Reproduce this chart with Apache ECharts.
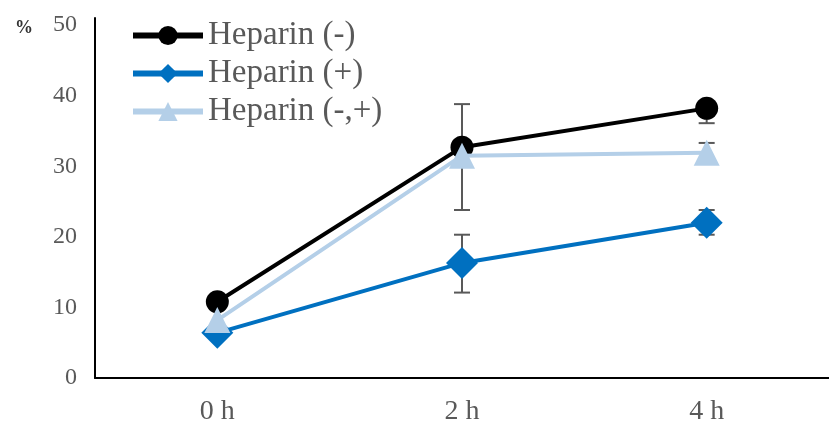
<!DOCTYPE html>
<html><head><meta charset="utf-8">
<script src="https://cdn.jsdelivr.net/npm/echarts@6/dist/echarts.min.js"></script>
<style>html,body{margin:0;padding:0;background:#fff}#c{width:829px;height:428px}</style>
</head><body><div id="c"></div>
<script>
const categories = ['0 h', '2 h', '4 h'];
const yTicks = [0, 10, 20, 30, 40, 50];
const heparinMinus = [10.8, 32.7, 38.2];
const heparinPlus = [6.4, 16.3, 22.0];
const heparinBoth = [8.2, 31.5, 31.9];
// error bars: [category index, low, high]
const errMinus = [[2, 36.1, 38.2]];
const errPlus = [[1, 12.1, 20.3], [2, 20.3, 23.8]];
const errBoth = [[1, 23.8, 38.8], [2, 30.5, 33.3]];

const errData = errMinus.concat(errPlus, errBoth);

const chart = echarts.init(document.getElementById('c'));
const serif = 'Liberation Serif';
function errRender(params, api) {
  const x = api.value(0);
  const lo = api.coord([x, api.value(1)]);
  const hi = api.coord([x, api.value(2)]);
  const w = 8;
  const style = {stroke: '#595959', lineWidth: 2};
  return {type: 'group', children: [
    {type: 'line', shape: {x1: lo[0], y1: lo[1], x2: hi[0], y2: hi[1]}, style},
    {type: 'line', shape: {x1: lo[0]-w, y1: lo[1], x2: lo[0]+w, y2: lo[1]}, style},
    {type: 'line', shape: {x1: hi[0]-w, y1: hi[1], x2: hi[0]+w, y2: hi[1]}, style}
  ]};
}
chart.setOption({
  animation: false,
  grid: {left: 95, right: 0, top: 18, bottom: 50, containLabel: false},
  graphic: [{type: 'text', left: 15, top: 19, style: {text: '%', font: 'bold 18px ' + serif, fill: '#333'}}],
  legend: {
    orient: 'vertical', left: 130, top: 19, padding: 0, itemWidth: 70, itemHeight: 24, itemGap: 5,
    lineStyle: {width: 6},
    data: ['Heparin (-)', 'Heparin (+)', 'Heparin (-,+)'],
    textStyle: {fontFamily: serif, fontSize: 33, color: '#595959'}
  },
  xAxis: {
    type: 'category', data: categories, boundaryGap: true,
    axisLine: {lineStyle: {color: '#000', width: 2}}, axisTick: {show: false},
    axisLabel: {fontFamily: serif, fontSize: 28, color: '#595959', margin: 20}
  },
  yAxis: {
    type: 'value', min: 0, max: 51, interval: 10,
    axisLine: {show: true, lineStyle: {color: '#000', width: 2}}, axisTick: {show: false},
    splitLine: {show: false},
    axisLabel: {fontFamily: serif, fontSize: 24, color: '#595959', margin: 18, showMaxLabel: false,
      formatter: v => (yTicks.indexOf(v) >= 0 ? String(v) : '')}
  },
  series: [
    {type: 'custom', renderItem: errRender, data: errData, z: 1, silent: true},
    {name: 'Heparin (-)', type: 'line', data: heparinMinus, symbol: 'circle', symbolSize: 23,
     lineStyle: {color: '#000', width: 4}, itemStyle: {color: '#000'}, z: 3},
    {name: 'Heparin (+)', type: 'line', data: heparinPlus, symbol: 'diamond', symbolSize: 32,
     lineStyle: {color: '#0070c0', width: 4}, itemStyle: {color: '#0070c0'}, z: 3},
    {name: 'Heparin (-,+)', type: 'line', data: heparinBoth, symbol: 'triangle', symbolSize: 26,
     lineStyle: {color: '#b4cfe8', width: 4}, itemStyle: {color: '#b4cfe8'}, z: 4}
  ]
});
</script></body></html>
